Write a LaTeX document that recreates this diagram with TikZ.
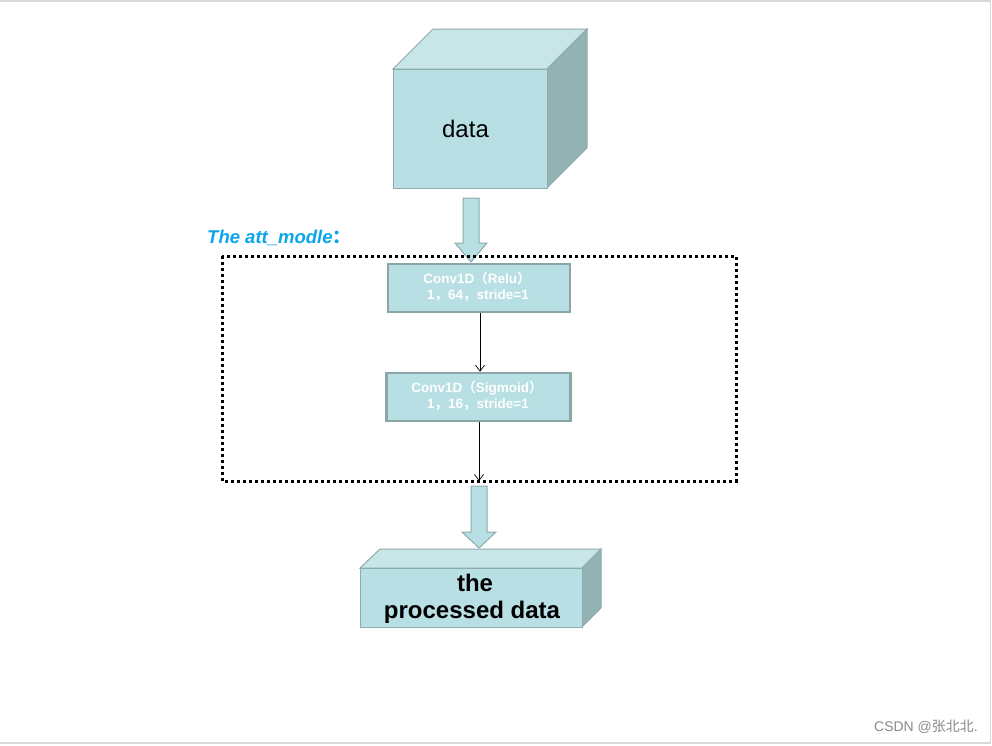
\documentclass[tikz,border=0pt]{standalone}
\usepackage{fontspec}
\setmainfont{Liberation Sans}
\newfontfamily\cjkfam{Noto Sans CJK SC}[BoldFont={Noto Sans CJK SC Bold}]
\newcommand{\cjk}[1]{{\cjkfam #1}}
\usetikzlibrary{arrows.meta}
\definecolor{faceC}{HTML}{B8DFE3}
\definecolor{topC}{HTML}{C8E5E7}
\definecolor{sideC}{HTML}{93B2B3}
\definecolor{edgeC}{HTML}{8FAAAA}
\definecolor{boxEdge}{HTML}{8CA5A6}
\definecolor{titleBlue}{HTML}{0AA6EA}
\definecolor{frameC}{HTML}{D9D9D9}
\definecolor{markC}{HTML}{8A8A8A}
\tikzset{
  face/.style={fill=faceC,draw=edgeC,line width=1pt,line join=miter},
  topface/.style={fill=topC,draw=edgeC,line width=1pt},
  sideface/.style={fill=sideC,draw=edgeC,line width=1pt},
  convbox/.style={draw=boxEdge,fill=faceC,line width=2.5pt,minimum width=182pt,minimum height=48pt,inner sep=0pt},
  boxtxt/.style={text=white,font=\bfseries\fontsize{13.5}{16}\selectfont,align=center,inner sep=0pt},
  thinarrow/.style={draw=black,line width=0.8pt,-{Straight Barb[length=6pt,width=9pt,line width=0.7pt]}},
  blockarrow/.style={fill=faceC,draw=edgeC,line width=1pt},
  dotframe/.style={draw=black,line width=3pt,dash pattern=on 3pt off 3pt}
}
\begin{document}
\begin{tikzpicture}[x=1pt,y=-1pt]
\useasboundingbox (0,0) rectangle (992,745);
\fill[white] (0,0) rectangle (992,745);
% outer frame
\draw[frameC,line width=1.5pt] (0,0.75) -- (990.5,0.75) -- (990.5,743) -- (0,743);

% data cube
\draw[topface] (393,69) -- (433,29) -- (587,29) -- (547,69) -- cycle;
\draw[sideface] (547,69) -- (587,29) -- (587,148) -- (547,188) -- cycle;
\node[face,minimum width=154pt,minimum height=119pt,inner sep=0pt,anchor=north west] (data) at (393,69) {};
\node[anchor=base,inner sep=0pt,font=\fontsize{24}{28}\selectfont] (datatxt) at (465.5,137) {data};

% block arrow 1
\draw[blockarrow] (463,198) -- (479,198) -- (479,243) -- (487,243) -- (471,262) -- (455,243) -- (463,243) -- cycle;

% title
\node[anchor=base west,inner sep=0pt,text=titleBlue,font=\bfseries\itshape\fontsize{18.5}{22}\selectfont] (title) at (207,243) {The att\_modle\cjk{：}};

% dotted frame
\draw[dotframe] (222,256) rectangle (736,481);
\coordinate (framebot) at (479,481);

% conv boxes
\node[convbox] (b1) at (479,288) {};
\node[boxtxt,anchor=base] (b1a) at (477,283) {Conv1D\cjk{（}Relu\cjk{）}};
\node[boxtxt,anchor=base] (b1b) at (478,299) {1\cjk{，}64\cjk{，}stride=1};
\node[convbox,minimum width=184pt] (b2) at (478.5,397) {};
\node[boxtxt,anchor=base] (b2a) at (477,392) {Conv1D\cjk{（}Sigmoid\cjk{）}};
\node[boxtxt,anchor=base] (b2b) at (478,408) {1\cjk{，}16\cjk{，}stride=1};

\draw[thinarrow] (b1.south) ++(1,0) -- ++(0,58.5);
\draw[thinarrow] (b2.south) ++(0.5,0) -- (framebot);

% block arrow 2
\draw[blockarrow] (471,486) -- (487,486) -- (487,532) -- (496,532) -- (479,548) -- (462,532) -- (471,532) -- cycle;

% processed data box
\draw[topface] (360,568) -- (380,549) -- (601,549) -- (582,568) -- cycle;
\draw[sideface] (582,568) -- (601,549) -- (601,608) -- (582,627) -- cycle;
\node[face,minimum width=222pt,minimum height=59pt,inner sep=0pt,anchor=north west] (proc) at (360,568) {};
\node[anchor=base,inner sep=0pt,font=\bfseries\fontsize{24}{28}\selectfont] (proc1) at (475,591) {the};
\node[anchor=base,inner sep=0pt,font=\bfseries\fontsize{24}{28}\selectfont] (proc2) at (472,618) {processed data};

% watermark
\node[anchor=base east,inner sep=0pt,text=markC,font=\fontsize{14}{16}\selectfont] (mark) at (978,731) {CSDN @\cjk{张北北}.};
\end{tikzpicture}
\end{document}
